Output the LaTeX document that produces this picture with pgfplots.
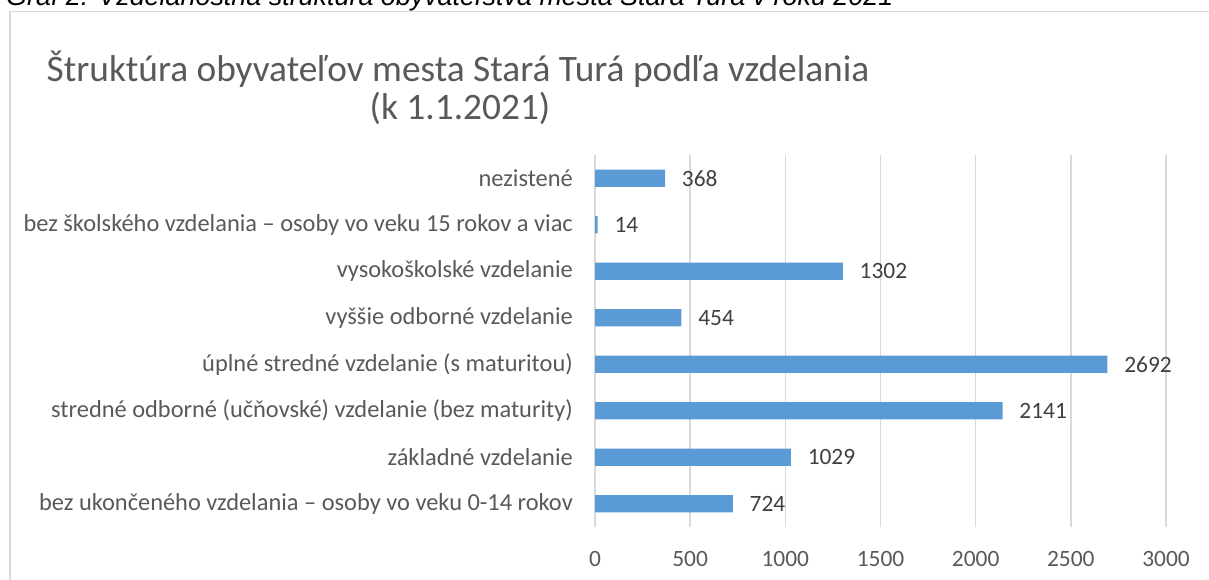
\documentclass[border=0pt]{standalone}
\usepackage{fontspec}
\setmainfont{Carlito}
\newfontfamily\capfont{Liberation Sans}
\usepackage{pgfplots}
\pgfplotsset{compat=1.18}
\definecolor{barblue}{HTML}{5B9BD5}
\definecolor{gridgray}{HTML}{D9D9D9}
\definecolor{txtgray}{HTML}{595959}
\definecolor{lblgray}{HTML}{404040}
\begin{document}
\begin{tikzpicture}
\useasboundingbox (0bp,0bp) rectangle (1209bp,580bp);
\clip (0bp,0bp) rectangle (1209bp,580bp);
\draw[gridgray, line width=1.3bp] (10bp,-5bp) -- (10bp,568.3bp) -- (1215bp,568.3bp);
\node[anchor=base west, inner sep=0pt, font=\capfont\itshape\fontsize{27}{31}\selectfont, text=black] at (6bp,574bp) {Graf 2: Vzdelanostná štruktúra obyvateľstva mesta Stará Turá v roku 2021};
\node[anchor=base, inner sep=0pt, font=\fontsize{37.5}{44}\selectfont, text=txtgray] at (458bp,498.3bp) {Štruktúra obyvateľov mesta Stará Turá podľa vzdelania};
\node[anchor=base, inner sep=0pt, font=\fontsize{37.5}{44}\selectfont, text=txtgray] at (460bp,460bp) {(k 1.1.2021)};
\begin{axis}[
  at={(595bp,53bp)}, anchor=south west,
  width=571bp, height=372bp, scale only axis,
  xmin=0, xmax=3000, ymin=-0.5, ymax=7.5,
  xbar, bar width=17.3bp,
  axis line style={draw=none},
  major tick length=0pt,
  xtick={0,500,...,3000},
  xmajorgrids, grid style={gridgray, line width=1.5bp},
  ytick={0,...,7},
  yticklabels={
    {bez ukončeného vzdelania – osoby vo veku 0-14 rokov},
    {základné vzdelanie},
    {stredné odborné (učňovské) vzdelanie (bez maturity)},
    {úplné stredné vzdelanie (s maturitou)},
    {vyššie odborné vzdelanie},
    {vysokoškolské vzdelanie},
    {bez školského vzdelania – osoby vo veku 15 rokov a viac},
    {nezistené}},
  yticklabel style={anchor=east, inner sep=0pt, xshift=-22bp, font=\fontsize{24.5}{29}\selectfont, text=txtgray},
  xticklabel style={anchor=base, inner sep=0pt, yshift=-39.7bp, font=\fontsize{23.5}{27}\selectfont, text=txtgray},
  /pgf/number format/assume math mode=true,
  /pgf/number format/1000 sep={},
  nodes near coords, point meta=x,
  nodes near coords style={anchor=west, inner sep=0pt, xshift=16.7bp, font=\fontsize{23.5}{27}\selectfont, text=lblgray},
]
\addplot[fill=barblue, draw=none] coordinates {
  (724,0) (1029,1) (2141,2) (2692,3) (454,4) (1302,5) (14,6) (368,7)
};
\end{axis}
\end{tikzpicture}
\end{document}
